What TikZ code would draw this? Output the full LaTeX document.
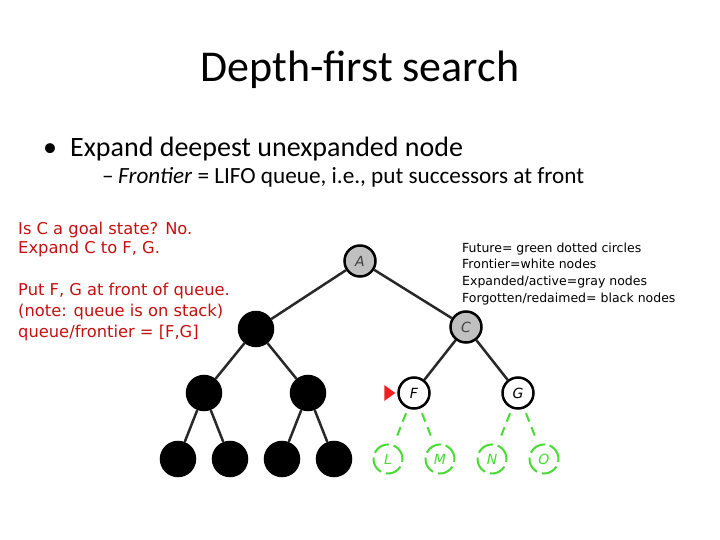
\documentclass[tikz,border=0pt]{standalone}
\usepackage{fontspec}
\setmainfont{Carlito}
\newfontfamily\tah{DejaVu Sans}
\usetikzlibrary{calc}
\definecolor{redtxt}{RGB}{196,16,16}
\definecolor{trired}{RGB}{240,30,30}
\definecolor{grn}{RGB}{70,220,50}
\definecolor{grayfill}{RGB}{192,192,192}
\definecolor{edgec}{RGB}{40,40,40}
\begin{document}
\begin{tikzpicture}[x=1pt,y=-1pt,
  nd/.style={circle, minimum size=31pt, inner sep=0pt, line width=2.5pt, draw=black,
    font=\tah\itshape\fontsize{14}{14}\selectfont},
  expd/.style={nd, fill=grayfill, text=black!75},
  front/.style={nd, fill=white},
  forg/.style={nd, fill=black, minimum size=34pt},
  fut/.style={nd, draw=grn, dash pattern=on 17pt off 5pt, line width=2pt, text=grn, minimum size=29pt},
  tree/.style={line width=2.5pt, draw=edgec},
  futedge/.style={line width=2pt, draw=grn, dash pattern=on 9pt off 6pt, shorten <=5pt, shorten >=5pt},
  redline/.style={anchor=base west, inner sep=0pt, text=redtxt, font=\tah\fontsize{16.3}{16.3}\selectfont},
  legline/.style={anchor=base west, inner sep=0pt, font=\tah\fontsize{12.5}{12.5}\selectfont},
]
\useasboundingbox (0,0) rectangle (720,540);

% titles
\node[anchor=base, inner sep=0pt] (title) at (360,82) {\fontsize{44}{44}\selectfont Depth-first search};
\node[anchor=base west, inner sep=0pt] (b1) at (43,157) {\fontsize{28}{28}\selectfont •};
\node[anchor=base west, inner sep=0pt] (t1) at (70,157) {\fontsize{28}{28}\selectfont Expand deepest unexpanded node};
\node[anchor=base west, inner sep=0pt] (b2) at (102,184) {\fontsize{23.2}{23.2}\selectfont –};
\node[anchor=base west, inner sep=0pt] (t2) at (118,184) {\fontsize{23.2}{23.2}\selectfont \textit{Frontier} = LIFO queue, i.e., put successors at front};

% red explanation
\node[redline] (r1) at (18,235) {Is C a goal state? No.};
\node[redline] (r2) at (18,253) {Expand C to F, G.};
\node[redline] (r3) at (18,295) {Put F, G at front of queue.};
\node[redline] (r4) at (18,316) {(note: queue is on stack)};
\node[redline] (r5) at (18,337) {queue/frontier = [F,G]};

% legend
\node[legline] (l1) at (462,252) {Future= green dotted circles};
\node[legline] (l2) at (462,268) {Frontier=white nodes};
\node[legline] (l3) at (462,285) {Expanded/active=gray nodes};
\node[legline] (l4) at (462,302) {Forgotten/redaimed= black nodes};

% tree nodes
\node[expd] (A) at (360,261) {A};
\node[expd] (C) at (466,327) {C};
\node[forg] (B) at (256,329) {};
\node[forg] (D) at (204,393) {};
\node[forg] (E) at (308,393) {};
\node[front] (F) at (414,393) {F};
\node[front] (G) at (518,393) {G};
\node[forg] (H) at (178,459) {};
\node[forg] (I) at (230,459) {};
\node[forg] (J) at (282,459) {};
\node[forg] (K) at (334,459) {};
\node[fut] (L) at (388,459) {L};
\node[fut] (M) at (440,459) {M};
\node[fut] (N) at (492,459) {N};
\node[fut] (O) at (544,459) {O};

% edges
\draw[tree] (A) -- (B);
\draw[tree] (A) -- (C);
\draw[tree] (B) -- (D);
\draw[tree] (B) -- (E);
\draw[tree] (C) -- (F);
\draw[tree] (C) -- (G);
\draw[tree] (D) -- (H);
\draw[tree] (D) -- (I);
\draw[tree] (E) -- (J);
\draw[tree] (E) -- (K);
\draw[futedge] (F) -- (L);
\draw[futedge] (F) -- (M);
\draw[futedge] (G) -- (N);
\draw[futedge] (G) -- (O);

% pointer
\fill[trired] ($(F.west)+(-2,0)$) -- ++(-11,-8) -- ++(0,16) -- cycle;
\end{tikzpicture}
\end{document}
